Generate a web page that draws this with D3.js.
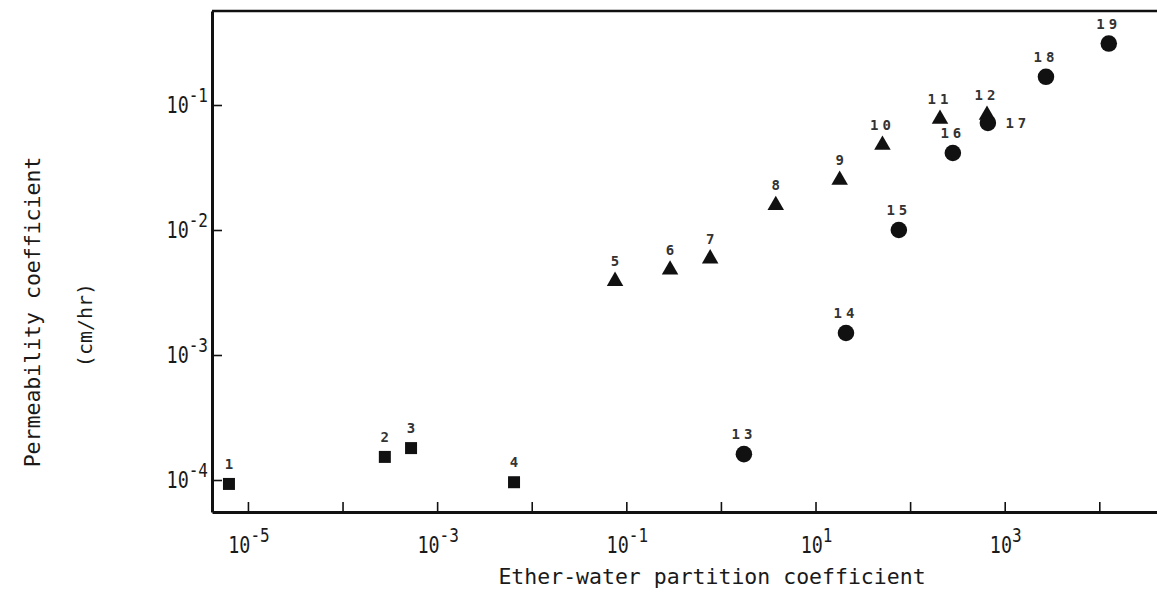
<!DOCTYPE html>
<html>
<head>
<meta charset="utf-8">
<script src="https://cdn.jsdelivr.net/npm/d3@7"></script>
<style>
  html, body { margin: 0; padding: 0; background: #ffffff; }
  svg { display: block; }
  text { font-family: "DejaVu Sans Mono", "Liberation Mono", monospace; fill: #1a1a1a; }
</style>
</head>
<body>
<svg id="chart" width="1157" height="599"></svg>
<script>
// ---- data ----
const squareIds = ["1", "2", "3", "4"];
const squareX = [6.3e-6, 2.8e-4, 5.3e-4, 6.5e-3];
const squareY = [9.3e-5, 1.53e-4, 1.80e-4, 9.6e-5];

const triangleIds = ["5", "6", "7", "8", "9", "10", "11", "12"];
const triangleX = [0.076, 0.29, 0.77, 3.8, 18, 51, 207, 650];
const triangleY = [3.9e-3, 4.8e-3, 5.9e-3, 0.0158, 0.0251, 0.0479, 0.0773, 0.0832];

const circleIds = ["13", "14", "15", "16", "17", "18", "19"];
const circleX = [1.75, 21, 76, 283, 664, 2730, 12600];
const circleY = [1.61e-4, 1.50e-3, 0.0100, 0.0413, 0.0718, 0.168, 0.31];

const xTickValues = [1e-5, 1e-4, 1e-3, 1e-2, 1e-1, 1, 10, 100, 1000, 10000];
const xLabelValues = [1e-5, 1e-3, 1e-1, 10, 1000];
const xLabelExponents = ["-5", "-3", "-1", "1", "3"];
const yTickValues = [1e-4, 1e-3, 1e-2, 1e-1];
const yLabelExponents = ["-4", "-3", "-2", "-1"];

const xTitle = "Ether-water partition coefficient";
const yTitle1 = "Permeability coefficient";
const yTitle2 = "(cm/hr)";

// ---- layout ----
const W = 1157, H = 599;
const plot = { left: 212, right: 1157, top: 11, bottom: 512 };

const svg = d3.select("#chart");

const x = d3.scaleLog()
  .domain([Math.pow(10, -5.38), Math.pow(10, 4.61)])
  .range([plot.left, plot.right]);
const y = d3.scaleLog()
  .domain([Math.pow(10, -4.256), Math.pow(10, -0.248)])
  .range([plot.bottom, plot.top]);

const ink = "#111";

// top frame line
svg.append("line")
  .attr("x1", plot.left).attr("x2", plot.right)
  .attr("y1", plot.top).attr("y2", plot.top)
  .attr("stroke", ink).attr("stroke-width", 2.5);

// x axis
const xAxis = svg.append("g")
  .attr("transform", `translate(0,${plot.bottom})`)
  .call(d3.axisBottom(x).tickValues(xTickValues).tickSizeInner(-10).tickSizeOuter(0).tickFormat(""));
xAxis.select(".domain").attr("stroke", ink).attr("stroke-width", 3);
xAxis.selectAll(".tick line").attr("stroke", ink).attr("stroke-width", 1.6);

// y axis
const yAxis = svg.append("g")
  .attr("transform", `translate(${plot.left},0)`)
  .call(d3.axisLeft(y).tickValues(yTickValues).tickSizeInner(-10).tickSizeOuter(0).tickFormat(""));
yAxis.select(".domain").attr("stroke", ink).attr("stroke-width", 3);
yAxis.selectAll(".tick line").attr("stroke", ink).attr("stroke-width", 1.6);

// tick labels "10" with superscript exponent (condensed typewriter look)
function powerLabel(g, exp, anchor) {
  const t = g.append("text")
    .attr("text-anchor", anchor)
    .attr("font-size", 23);
  t.append("tspan").text("10");
  t.append("tspan").attr("dy", -11).attr("font-size", 20).text(exp);
}

xLabelValues.forEach((v, i) => {
  const g = svg.append("g")
    .attr("transform", `translate(${x(v) + 1},${553}) scale(0.8,1)`);
  powerLabel(g, xLabelExponents[i], "middle");
});

yTickValues.forEach((v, i) => {
  const g = svg.append("g")
    .attr("transform", `translate(${208},${y(v) + 8}) scale(0.8,1)`);
  powerLabel(g, yLabelExponents[i], "end");
});

// axis titles
svg.append("text")
  .attr("x", 712).attr("y", 584)
  .attr("text-anchor", "middle")
  .attr("font-size", 21.5)
  .text(xTitle);

svg.append("text")
  .attr("transform", "translate(40,312) rotate(-90)")
  .attr("text-anchor", "middle")
  .attr("font-size", 21.5)
  .text(yTitle1);

svg.append("text")
  .attr("transform", "translate(92,325) rotate(-90)")
  .attr("text-anchor", "middle")
  .attr("font-size", 20)
  .text(yTitle2);

// ---- markers ----
function drawSeries(ids, xs, ys, symbolType, size) {
  const data = ids.map((id, i) => ({ id, xv: xs[i], yv: ys[i] }));
  const sym = d3.symbol().type(symbolType).size(size);
  svg.append("g").selectAll("path")
    .data(data).join("path")
    .attr("transform", d => `translate(${x(d.xv)},${y(d.yv)})`)
    .attr("d", sym)
    .attr("fill", ink);
  return data;
}

const sq = drawSeries(squareIds, squareX, squareY, d3.symbolSquare, 144);
const tr = drawSeries(triangleIds, triangleX, triangleY, d3.symbolTriangle, 118);
const ci = drawSeries(circleIds, circleX, circleY, d3.symbolCircle, 215);

// point labels
const labelled = sq.concat(tr, ci);
svg.append("g").selectAll("text")
  .data(labelled).join("text")
  .attr("x", d => x(d.xv) + (d.id === "17" ? 30 : 0))
  .attr("y", d => y(d.yv) + (d.id === "17" ? 5 : -15))
  .attr("text-anchor", "middle")
  .attr("font-size", 14)
  .attr("font-weight", "bold")
  .attr("letter-spacing", d => d.id.length > 1 ? 4 : 0)
  .style("fill", "#333")
  .text(d => d.id);
</script>
</body>
</html>
